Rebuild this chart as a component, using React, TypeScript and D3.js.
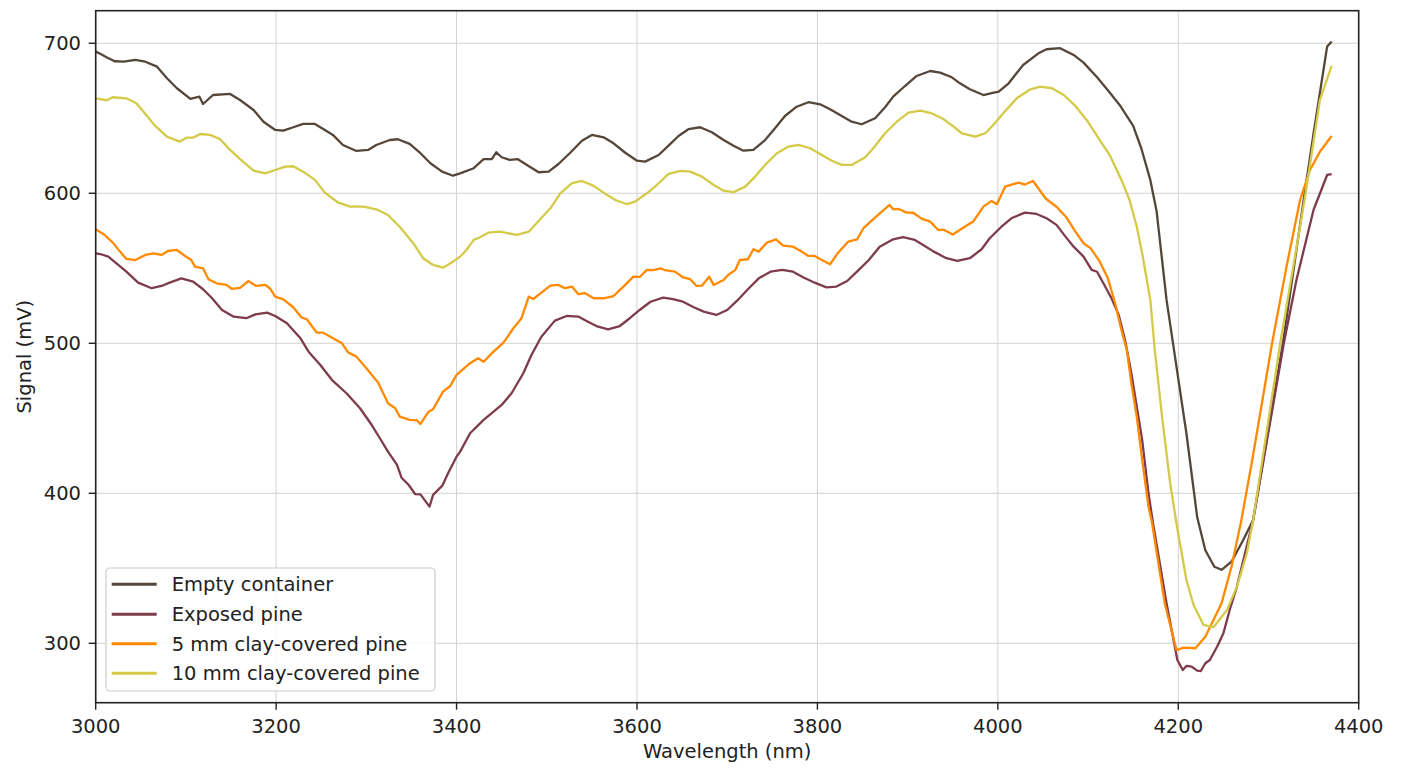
import React from "react";
import * as d3 from "d3";

type Pt = [number, number];

const xTicks = [3000, 3200, 3400, 3600, 3800, 4000, 4200, 4400];
const yTicks = [300, 400, 500, 600, 700];

const seriesNames = ["Empty container", "Exposed pine", "5 mm clay-covered pine", "10 mm clay-covered pine"];
const seriesColors = ["#55463a", "#7e3b4c", "#ff8a00", "#d5ca48"];

const emptyContainer: Pt[] = [
  [3000,694.4],[3005,693],[3012,690.7],[3021,688],[3031,687.7],[3044,688.9],[3055,687.7],[3068,684.4],[3079,676.7],[3090,670],
  [3105,662.9],[3115,664.4],[3119,659.5],[3130,665.5],[3149,666.2],[3160,662.2],[3175,655.5],[3186,647.7],[3199,642.2],[3208,641.7],
  [3219,644],[3230,646.2],[3243,646.2],[3254,642.2],[3263,638.9],[3274,632.2],[3289,628.2],[3302,628.9],[3311,632.2],[3326,635.5],
  [3335,636],[3348,632.9],[3360,626.7],[3371,620],[3384,614.4],[3396,611.7],[3404,613.3],[3419,616.7],[3430,622.7],[3439,622.7],
  [3444,627.3],[3450,624],[3459,622.2],[3468,622.7],[3478,618.9],[3491,614],[3502,614.4],[3513,619.5],[3526,627],[3539,635],
  [3550,638.9],[3563,637.3],[3574,633.3],[3587,627],[3600,621.7],[3609,621.1],[3624,625.5],[3637,632.9],[3646,638.2],[3657,642.7],
  [3670,644],[3683,640.7],[3696,635.5],[3707,631.7],[3718,628.4],[3729,628.9],[3742,635.5],[3753,643.3],[3764,651.5],[3777,657.7],
  [3790,660.7],[3803,659.3],[3814,656],[3827,651.5],[3838,647.7],[3849,646],[3864,650],[3875,657.3],[3884,664.4],[3897,671.5],
  [3910,678.2],[3925,681.5],[3936,680.4],[3949,677.3],[3958,673.3],[3969,669.3],[3984,665.5],[3993,666.7],[4001,667.7],[4012,673.3],
  [4028,685.5],[4045,693.3],[4054,696],[4069,696.7],[4084,692.2],[4095,687.1],[4110,677.3],[4124,667.1],[4135,658.9],[4150,644.9],
  [4159,630],[4169,608.9],[4176,588],[4187,528.9],[4198,484.4],[4209,440],[4221,384],[4230,362],[4240,351],[4248,349],[4259,354.4],
  [4272,368.9],[4283,382.2],[4316,500],[4339,595.5],[4350,640],[4365,697.8],[4370,701.1],
];

const exposedPine: Pt[] = [
  [3000,560],[3005,559.5],[3014,557.8],[3023,553.3],[3034,547.8],[3047,540.4],[3062,536.7],[3073,538.2],[3082,540.4],[3095,543.3],
  [3108,541.1],[3119,536],[3129,530],[3140,522.2],[3153,517.7],[3167,516.7],[3177,519.3],[3190,520.4],[3199,518.2],[3212,513.3],
  [3227,503.3],[3236,494.4],[3249,485.5],[3262,475.5],[3278,466.7],[3293,456.7],[3306,445.5],[3315,436.7],[3324,427.8],[3334,418.9],
  [3339,410.4],[3347,405.5],[3354,399.5],[3360,399.3],[3370,391.1],[3374,398.9],[3384,404.9],[3391,413.8],[3400,424.4],[3404,427.8],
  [3415,440],[3430,448.9],[3441,454.4],[3450,458.9],[3461,466.7],[3474,480],[3483,492.2],[3494,504.4],[3509,515.1],[3522,518.2],
  [3535,517.8],[3544,514.9],[3555,511.5],[3568,509.3],[3581,511.5],[3592,516.7],[3603,522.2],[3615,527.7],[3629,530.4],[3640,529.5],
  [3651,527.7],[3663,524],[3674,521.1],[3688,518.9],[3700,522.2],[3711,528.4],[3724,536.7],[3735,543.3],[3748,547.7],[3761,548.9],
  [3773,547.7],[3784,544],[3797,540.4],[3810,537.3],[3821,537.8],[3833,541.5],[3845,548.4],[3857,555.5],[3869,564.4],[3884,569.3],
  [3895,570.7],[3908,568.9],[3919,564.9],[3929,561.1],[3943,556.7],[3955,554.9],[3969,556.7],[3982,562.7],[3991,570],[4004,577.7],
  [4015,583.3],[4030,587.1],[4043,586.2],[4054,583.3],[4065,578.9],[4075,571.1],[4084,564.4],[4095,557.8],[4104,548.9],[4110,547.7],
  [4117,540],[4126,530],[4134,518.9],[4141,502.2],[4148,480],[4154,457.8],[4160,435.5],[4167,400],[4172,380],[4187,326.7],
  [4199,288.9],[4205,282.2],[4209,284.9],[4215,284.4],[4221,281.8],[4225,281.5],[4230,286.7],[4235,288.9],[4243,297.7],[4250,306.7],
  [4257,322.2],[4265,337.8],[4274,360],[4283,382.2],[4317,500],[4331,542.2],[4350,589],[4365,612.2],[4370,612.8],
];

const clay5mm: Pt[] = [
  [3000,576],[3010,572.2],[3019,567.1],[3027,561.1],[3034,556.2],[3044,555.5],[3055,558.9],[3064,560],[3073,558.9],[3080,561.5],
  [3090,562.2],[3099,558.2],[3106,555.5],[3110,551.1],[3119,550],[3125,542.7],[3134,540],[3145,538.9],[3151,536.2],[3160,536.9],
  [3169,541.5],[3178,538.2],[3188,538.9],[3193,536.7],[3199,531.1],[3208,529.3],[3219,524],[3228,517.3],[3234,516],[3245,507.1],
  [3252,507.1],[3263,503.3],[3273,500],[3280,493.8],[3289,491.1],[3300,483.3],[3313,473.8],[3324,460],[3332,456.7],[3337,451.1],
  [3348,448.9],[3356,448.7],[3360,446.2],[3369,454.4],[3374,456],[3385,467.8],[3393,471.5],[3400,478.9],[3415,486.7],[3424,490],
  [3430,487.7],[3441,494.4],[3452,500.4],[3463,510],[3472,516.7],[3480,531.1],[3485,529.5],[3493,533.3],[3504,538.4],[3513,538.9],
  [3520,536.7],[3528,537.8],[3535,532.7],[3542,533.5],[3552,530],[3563,530],[3574,531.5],[3585,537.8],[3596,544.4],[3603,544.2],
  [3611,548.9],[3618,548.7],[3626,550],[3631,548.7],[3642,547.8],[3651,544],[3659,542.7],[3666,538.2],[3672,538.4],[3680,544.4],
  [3685,538.9],[3696,542.2],[3701,545.5],[3709,548.9],[3714,555.5],[3723,556],[3729,562.7],[3735,561.1],[3744,567.1],[3754,569.3],
  [3762,565.1],[3773,564.4],[3781,561.7],[3790,558.2],[3797,558.2],[3807,554.9],[3814,552.7],[3823,560.4],[3834,567.7],[3844,569.3],
  [3851,576.7],[3866,584.9],[3880,592.2],[3884,589.3],[3890,589.5],[3899,587.1],[3906,587],[3916,582.9],[3925,581.1],[3934,575.5],
  [3940,575.7],[3950,572.5],[3962,577.2],[3973,581.4],[3984,591.1],[3993,594.9],[3999,592.7],[4008,604.4],[4023,607.1],[4030,605.8],
  [4039,608.2],[4053,596.5],[4065,591],[4076,584],[4086,574.4],[4095,566.7],[4103,563.3],[4113,554.4],[4122,543.3],[4130,526.7],
  [4137,508.9],[4143,495.5],[4148,473.3],[4154,451.1],[4160,422.2],[4167,391.1],[4171,380],[4185,326.7],[4198,295.5],[4206,297.1],
  [4219,296.7],[4230,304.4],[4239,315.5],[4248,326.7],[4259,351.1],[4270,382.2],[4282,422.2],[4304,500],[4320,551.1],[4335,595.5],
  [4346,615.5],[4357,627.7],[4370,638.2],
];

const clay10mm: Pt[] = [
  [3000,663.3],[3012,662],[3019,664],[3034,663.3],[3045,660],[3056,652.2],[3066,644.9],[3079,637.8],[3093,634.4],[3101,637.1],
  [3108,637.1],[3116,639.5],[3127,638.9],[3138,636],[3149,628.9],[3160,622.7],[3175,615.1],[3188,613.3],[3199,615.5],[3210,617.7],
  [3219,618],[3230,614.4],[3243,608.9],[3254,600.4],[3269,593.7],[3282,591.1],[3297,591.1],[3311,589.3],[3324,585.5],[3337,577.7],
  [3352,566.7],[3363,556.7],[3374,552.2],[3385,550.4],[3396,554.4],[3404,557.8],[3411,562.2],[3419,568.9],[3426,570.7],[3435,573.7],
  [3448,574.4],[3467,572.2],[3480,574.4],[3492,582.2],[3504,590],[3515,600],[3528,606.7],[3539,608.2],[3552,604.9],[3563,600.4],
  [3576,595.5],[3589,592.7],[3598,594.4],[3611,600],[3622,605.5],[3635,612.9],[3648,614.9],[3659,614.4],[3672,611.1],[3685,605.5],
  [3696,601.7],[3707,600.7],[3720,604.4],[3731,611.1],[3742,618.9],[3755,626.7],[3768,631.1],[3779,632.2],[3792,630],[3803,626.2],
  [3816,621.7],[3827,618.9],[3838,618.9],[3853,624],[3862,630],[3875,640],[3888,647.7],[3901,653.7],[3914,655.1],[3926,653.5],
  [3940,649.3],[3951,644.4],[3960,640],[3975,637.8],[3986,640],[3995,645.5],[4006,653.3],[4021,663.3],[4036,669.3],[4047,671.1],
  [4060,670],[4073,665.5],[4086,658.2],[4099,648.4],[4113,635.5],[4124,625.5],[4137,608.9],[4146,595.5],[4154,577.7],[4160,560],
  [4169,528.9],[4174,495.5],[4182,451.1],[4191,406.7],[4198,380],[4209,342.2],[4217,325.5],[4228,312.2],[4239,310.7],[4254,322.2],
  [4265,337.8],[4276,360],[4283,382.2],[4313,500],[4340,595.5],[4357,662.2],[4370,684.9],
];

const allSeries = [emptyContainer, exposedPine, clay5mm, clay10mm];

const W = 1407;
const H = 772;
const left = 95.7, right = 1358.7, top = 10.7, bottom = 702.7;
const FONT = "'DejaVu Sans', sans-serif";
const FS = 19.5;

export default function App() {
  const x = d3.scaleLinear().domain([3000, 4400]).range([left, right]);
  const y = d3.scaleLinear().domain([260.4, 721.7]).range([bottom, top]);
  const line = d3.line<Pt>().x((d) => x(d[0])).y((d) => y(d[1]));

  const legX = 106, legY = 568, legW = 329, legH = 123;
  const rowY = [584.3, 614.3, 643.8, 673.3];

  return (
    <svg width={W} height={H} style={{ position: "absolute", left: 0, top: 0, background: "#fff" }} fontFamily={FONT}>
      <rect x={0} y={0} width={W} height={H} fill="#fff" />
      <g stroke="#d2d2d2" strokeWidth={1}>
        {xTicks.map((t) => (
          <line key={"gx" + t} x1={x(t)} x2={x(t)} y1={top} y2={bottom} />
        ))}
        {yTicks.map((t) => (
          <line key={"gy" + t} x1={left} x2={right} y1={y(t)} y2={y(t)} />
        ))}
      </g>
      <g fill="none" strokeWidth={2.3} strokeLinejoin="round" strokeLinecap="butt">
        {allSeries.map((s, i) => (
          <path key={i} d={line(s) || ""} stroke={seriesColors[i]} />
        ))}
      </g>
      <rect x={left} y={top} width={right - left} height={bottom - top} fill="none" stroke="#222" strokeWidth={1.6} />
      <g stroke="#222" strokeWidth={1.4}>
        {xTicks.map((t) => (
          <line key={"tx" + t} x1={x(t)} x2={x(t)} y1={bottom} y2={bottom + 7} />
        ))}
        {yTicks.map((t) => (
          <line key={"ty" + t} x1={left - 7} x2={left} y1={y(t)} y2={y(t)} />
        ))}
      </g>
      <g fontSize={FS} fill="#222">
        {xTicks.map((t) => (
          <text key={"lx" + t} x={x(t)} y={732.5} textAnchor="middle">{t}</text>
        ))}
        {yTicks.map((t) => (
          <text key={"ly" + t} x={81} y={y(t) + 7} textAnchor="end">{t}</text>
        ))}
      </g>
      <text x={(left + right) / 2} y={758} textAnchor="middle" fontSize={FS} fill="#222">Wavelength (nm)</text>
      <text transform={`translate(31, ${(top + bottom) / 2}) rotate(-90)`} textAnchor="middle" fontSize={FS} fill="#222">Signal (mV)</text>
      <rect x={legX} y={legY} width={legW} height={legH} rx={4} fill="#fff" fillOpacity={0.8} stroke="#cccccc" strokeWidth={1.2} />
      {seriesNames.map((n, i) => (
        <g key={n}>
          <line x1={111.7} x2={156.7} y1={rowY[i]} y2={rowY[i]} stroke={seriesColors[i]} strokeWidth={3} />
          <text x={171.7} y={rowY[i] + 7} fontSize={FS} fill="#222">{n}</text>
        </g>
      ))}
    </svg>
  );
}
